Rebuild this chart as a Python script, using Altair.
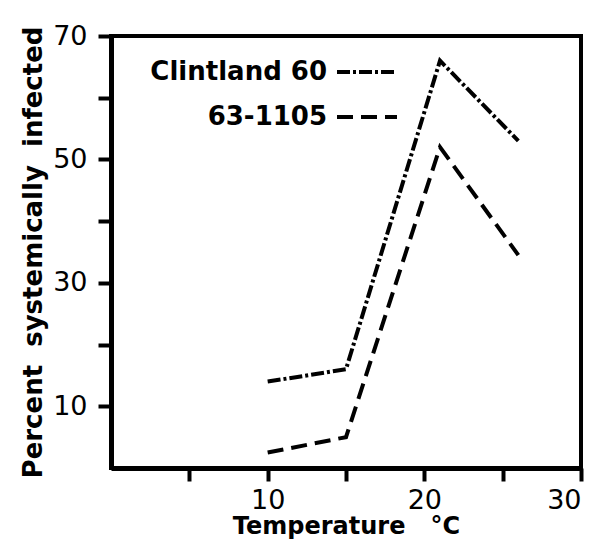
import altair as alt
import pandas as pd

temps = [10, 15, 21, 26]
clintland = [14, 16, 66, 53]
line_1105 = [2.5, 5, 52, 34.5]
series_names = ["Clintland 60", "63-1105"]

rows = []
for t, v in zip(temps, clintland):
    rows.append({"temp": t, "pct": v, "line": series_names[0]})
for t, v in zip(temps, line_1105):
    rows.append({"temp": t, "pct": v, "line": series_names[1]})
df = pd.DataFrame(rows)

x_ticks = [5, 10, 15, 20, 25, 30]
y_ticks = [10, 20, 30, 40, 50, 60, 70]

FONT = "DejaVu Sans"
NB = "\u00a0"

chart = alt.Chart(df).mark_line(strokeWidth=4, color="black", strokeCap="butt").encode(
    x=alt.X("temp:Q", scale=alt.Scale(domain=[0, 30], nice=False, zero=False),
            axis=alt.Axis(values=x_ticks, title=f"Temperature{NB}{NB}{NB}°C",
                          labelExpr="datum.value % 10 == 0 ? datum.label : ''",
                          labelPadding=6, titlePadding=1, titleFontSize=24)),
    y=alt.Y("pct:Q", scale=alt.Scale(domain=[0, 70], nice=False),
            axis=alt.Axis(values=y_ticks,
                          title=f"Percent{NB}{NB}systemically{NB}{NB}infected",
                          labelExpr="datum.value % 20 == 10 ? datum.label : ''",
                          labelPadding=11, titlePadding=6, titleFontSize=26)),
    strokeDash=alt.StrokeDash("line:N", sort=series_names,
                              scale=alt.Scale(domain=series_names,
                                              range=[[13, 3, 3, 3], [16, 8]]),
                              legend=alt.Legend(title=None, orient="none",
                                                legendX=224, legendY=4,
                                                symbolType="stroke", symbolSize=3600,
                                                symbolStrokeWidth=4, symbolStrokeColor="black",
                                                labelAlign="right", labelOffset={"expr": "-72"},
                                                labelFont=FONT, labelFontSize=26,
                                                labelFontWeight="bold", labelColor="black",
                                                labelLimit=400, rowPadding=0)),
    detail="line:N",
).properties(
    width=470, height=432,
    autosize=alt.AutoSizeParams(type="none"),
    padding={"left": 103, "top": 28, "right": 12, "bottom": 76},
).configure_view(
    stroke="black", strokeWidth=4
).configure_axis(
    domainColor="black", domainWidth=5, tickColor="black", tickWidth=4, tickSize=13,
    grid=False, labelFont=FONT, labelFontSize=27, labelColor="black",
    titleFont=FONT, titleFontWeight="bold", titleColor="black",
    labelFontWeight="normal"
)

chart.save("out.html", embed_options={"renderer": "svg", "actions": False})
